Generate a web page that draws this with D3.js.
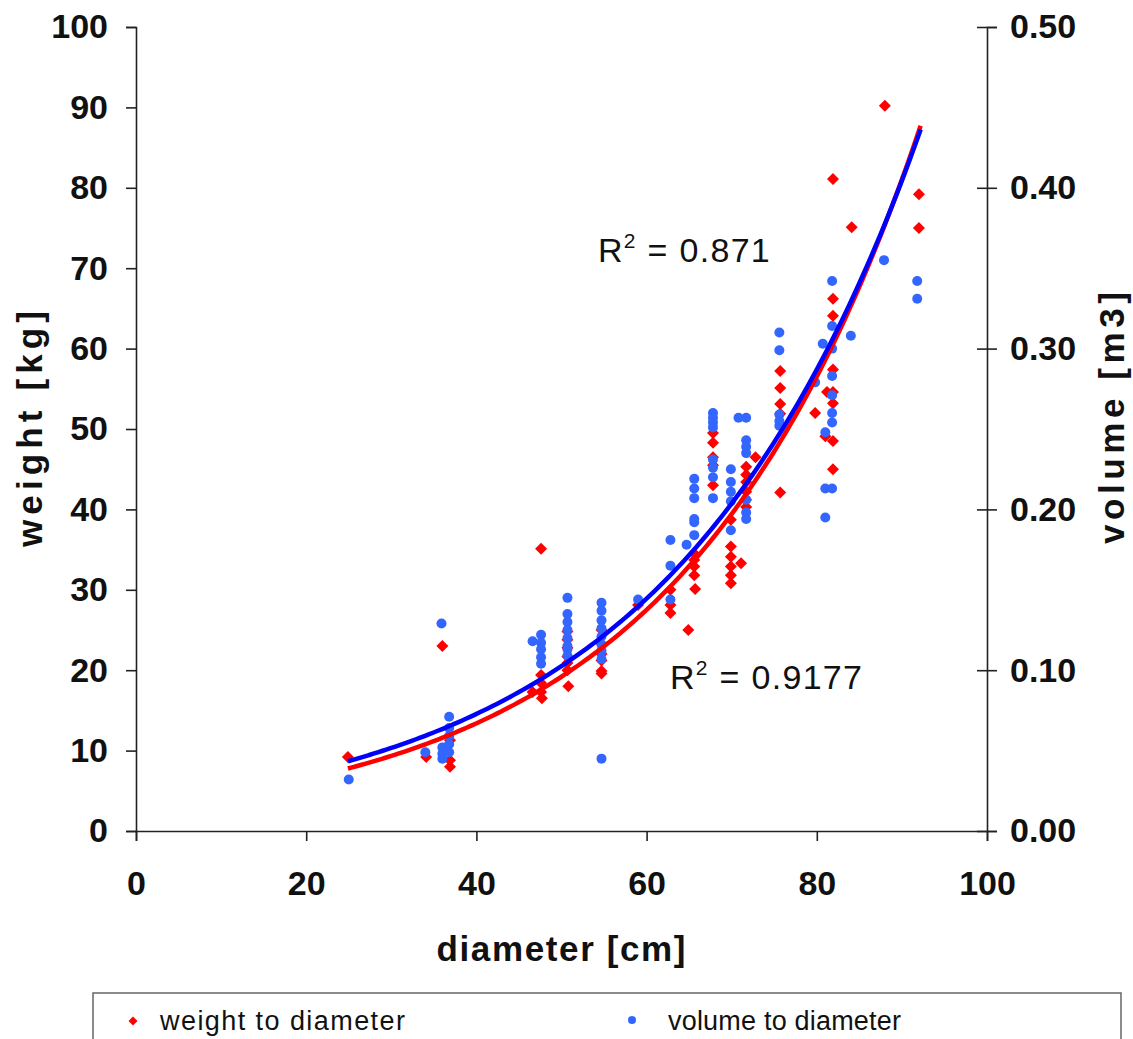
<!DOCTYPE html>
<html>
<head>
<meta charset="utf-8">
<script src="https://cdnjs.cloudflare.com/ajax/libs/d3/7.8.5/d3.min.js"></script>
<style>
  body { margin: 0; background: #fff; }
  svg { display: block; font-family: "Liberation Sans", Arial, sans-serif; }
</style>
</head>
<body>
<script>
// diameter [cm] and weight [kg]
const weightDiam = [24.9, 34.1, 36.0, 36.9, 36.9, 36.9, 46.6, 47.6, 47.6, 47.6, 47.6, 47.7,
  50.7, 50.7, 50.7, 50.7, 50.7, 50.7, 50.8, 54.7, 54.7, 54.7, 54.7, 54.7, 54.7, 59.0,
  62.8, 62.8, 62.8, 64.9, 65.6, 65.6, 65.6, 65.6, 65.7, 67.8, 67.8, 67.8, 67.8, 67.8,
  69.9, 69.9, 69.9, 69.9, 69.9, 69.9, 71.1, 71.7, 71.7, 71.7, 71.7, 71.7, 71.7, 72.8,
  75.7, 75.7, 75.7, 75.7, 75.7, 79.8, 81.0, 81.9, 81.9, 81.9, 81.9, 81.9, 81.2, 81.9,
  81.9, 81.9, 84.1, 88.0, 92.0, 92.0];
const weightKg = [9.2, 9.2, 23.0, 11.3, 8.8, 8.0, 17.3, 35.1, 19.4, 18.4, 17.3, 16.5,
  24.8, 23.8, 22.8, 21.7, 20.9, 20.0, 18.0, 25.0, 23.3, 22.0, 21.2, 19.9, 19.6, 28.1,
  30.0, 28.1, 27.1, 25.0, 34.5, 33.7, 32.9, 31.8, 30.1, 49.5, 48.3, 46.5, 45.5, 43.0,
  38.7, 35.4, 34.1, 32.9, 31.8, 30.8, 33.3, 45.3, 44.3, 43.4, 42.2, 41.2, 40.3, 46.5,
  57.2, 55.1, 53.1, 51.9, 42.1, 52.0, 49.1, 81.1, 66.2, 64.1, 57.4, 54.6, 54.6, 53.2,
  48.5, 45.0, 75.1, 90.2, 79.2, 75.0];

// diameter [cm] and volume [m3]
const volumeDiam = [25.0, 34.0, 35.9, 36.0, 36.0, 36.0, 36.8, 36.8, 36.8, 36.8, 36.8,
  46.6, 47.6, 47.6, 47.6, 47.6, 47.6,
  50.7, 50.7, 50.7, 50.7, 50.7, 50.7, 50.7, 50.7,
  54.7, 54.7, 54.7, 54.7, 54.7, 54.7, 54.7, 54.7, 54.7,
  59.0, 62.8, 62.8, 62.8, 64.7, 65.6, 65.6, 65.6, 65.6, 65.6, 65.6,
  67.8, 67.8, 67.8, 67.8, 67.8, 67.8, 67.8, 67.8,
  69.9, 69.9, 69.9, 69.9, 69.9, 70.8, 71.7, 71.7, 71.7, 71.7, 71.7, 71.7, 71.7,
  75.6, 75.6, 75.6, 75.6, 75.6, 79.8, 80.7, 81.0, 81.0, 81.0,
  81.8, 81.8, 81.8, 81.8, 81.8, 81.8, 81.8, 81.8, 84.0, 87.9, 91.8, 91.8];
const volumeM3 = [0.032, 0.049, 0.129, 0.045, 0.048, 0.052, 0.071, 0.064, 0.059, 0.054, 0.049,
  0.118, 0.122, 0.117, 0.113, 0.108, 0.104,
  0.145, 0.135, 0.130, 0.125, 0.120, 0.115, 0.113, 0.109,
  0.142, 0.137, 0.131, 0.126, 0.121, 0.116, 0.112, 0.107, 0.045,
  0.144, 0.181, 0.165, 0.144, 0.178, 0.219, 0.213, 0.207, 0.194, 0.192, 0.184,
  0.260, 0.257, 0.254, 0.251, 0.231, 0.226, 0.220, 0.207,
  0.225, 0.217, 0.211, 0.205, 0.187, 0.257, 0.257, 0.243, 0.239, 0.235, 0.206, 0.198, 0.194,
  0.310, 0.299, 0.259, 0.255, 0.252, 0.279, 0.303, 0.248, 0.213, 0.195,
  0.342, 0.314, 0.300, 0.283, 0.271, 0.260, 0.254, 0.213, 0.308, 0.355, 0.342, 0.331];

// exponential trendlines y = a * e^(b*x), coefficients
const trendWeight = [3.171, 0.03601];
const trendVolume = [0.01846, 0.0343];
const trendRange = [24.9, 92.2];

const xTicks = [0, 20, 40, 60, 80, 100];
const yTicksLeft = [0, 10, 20, 30, 40, 50, 60, 70, 80, 90, 100];
const yTicksRight = [0, 0.1, 0.2, 0.3, 0.4, 0.5];
const r2Weight = "0.9177";
const r2Volume = "0.871";

const width = 1133, height = 1039;
const plot = { left: 136, right: 987, top: 27, bottom: 831 };

const svg = d3.select("body").append("svg")
  .attr("width", width)
  .attr("height", height);

const x = d3.scaleLinear().domain([0, 100]).range([plot.left, plot.right]);
const yL = d3.scaleLinear().domain([0, 100]).range([plot.bottom, plot.top]);
const yR = d3.scaleLinear().domain([0, 0.5]).range([plot.bottom, plot.top]);

const weightPts = weightDiam.map((d, i) => [d, weightKg[i]]);
const volumePts = volumeDiam.map((d, i) => [d, volumeM3[i]]);

/* axes */
const axisL = svg.append("g")
  .attr("transform", `translate(${plot.left},0)`)
  .call(d3.axisLeft(yL).tickValues(yTicksLeft).tickFormat(d3.format("d")).tickSize(10).tickPadding(18));

const axisR = svg.append("g")
  .attr("transform", `translate(${plot.right},0)`)
  .call(d3.axisRight(yR).tickValues(yTicksRight).tickFormat(d3.format(".2f")).tickSize(10).tickPadding(13));
axisR.selectAll(".tick line").attr("x1", -10);

const axisB = svg.append("g")
  .attr("transform", `translate(0,${plot.bottom})`)
  .call(d3.axisBottom(x).tickValues(xTicks).tickFormat(d3.format("d")).tickSize(10).tickPadding(30));

[axisL, axisR, axisB].forEach((g) => {
  g.select(".domain").attr("stroke", "#222").attr("stroke-width", 1.6);
  g.selectAll(".tick line").attr("stroke", "#222").attr("stroke-width", 1.6);
  g.selectAll(".tick text")
    .attr("fill", "#111")
    .style("font-size", "34px")
    .style("font-weight", "bold")
    .style("font-family", '"Liberation Sans", Arial, sans-serif');
});

// axis titles
svg.append("text")
  .attr("transform", `translate(42,${(plot.top + plot.bottom) / 2}) rotate(-90)`)
  .attr("text-anchor", "middle")
  .attr("textLength", 236)
  .style("font-size", "35px")
  .style("font-weight", "bold")
  .attr("fill", "#111")
  .text("weight [kg]");

svg.append("text")
  .attr("transform", `translate(1124,418) rotate(-90)`)
  .attr("text-anchor", "middle")
  .attr("textLength", 252)
  .style("font-size", "35px")
  .style("font-weight", "bold")
  .attr("fill", "#111")
  .text("volume  [m3]");

svg.append("text")
  .attr("x", 561)
  .attr("y", 961)
  .attr("text-anchor", "middle")
  .attr("textLength", 249)
  .style("font-size", "35px")
  .style("font-weight", "bold")
  .attr("fill", "#111")
  .text("diameter [cm]");

/* points */
const diamond = d3.symbol().type(d3.symbolSquare).size(72);

svg.append("g").selectAll("path")
  .data(weightPts)
  .enter()
  .append("path")
  .attr("d", diamond)
  .attr("transform", (d) => `translate(${x(d[0])},${yL(d[1])}) rotate(45)`)
  .attr("fill", "#ff0000");

svg.append("g").selectAll("circle")
  .data(volumePts)
  .enter()
  .append("circle")
  .attr("cx", (d) => x(d[0]))
  .attr("cy", (d) => yR(d[1]))
  .attr("r", 5)
  .attr("fill", "#3366ff");

/* trendlines */
function drawTrend(coef, yScale, color) {
  const xs = d3.range(trendRange[0], trendRange[1], 0.5).concat([trendRange[1]]);
  svg.append("path")
    .datum(xs)
    .attr("fill", "none")
    .attr("stroke", color)
    .attr("stroke-width", 4.5)
    .attr("d", d3.line()
      .x((v) => x(v))
      .y((v) => yScale(coef[0] * Math.exp(coef[1] * v)))
      .curve(d3.curveMonotoneX));
}
drawTrend(trendWeight, yL, "#ff0000");
drawTrend(trendVolume, yR, "#0000ff");

/* R squared labels */
function r2Label(px, py, val) {
  const t = svg.append("text")
    .attr("x", px)
    .attr("y", py)
    .style("font-size", "34px")
    .style("letter-spacing", "1.3px")
    .attr("fill", "#111");
  t.append("tspan").text("R");
  t.append("tspan").attr("dy", -14).style("font-size", "21px").text("2");
  t.append("tspan").attr("dy", 14).text(" = " + val);
}
r2Label(598, 262, r2Volume);
r2Label(670, 689, r2Weight);

/* legend */
const legend = svg.append("g");
legend.append("rect")
  .attr("x", 93)
  .attr("y", 993)
  .attr("width", 1028)
  .attr("height", 60)
  .attr("fill", "none")
  .attr("stroke", "#666")
  .attr("stroke-width", 1.5);

legend.append("path")
  .attr("d", d3.symbol().type(d3.symbolSquare).size(40))
  .attr("transform", "translate(133,1021) rotate(45)")
  .attr("fill", "#ff0000");
legend.append("text")
  .attr("x", 160)
  .attr("y", 1030)
  .attr("textLength", 245)
  .style("font-size", "27px")
  .attr("fill", "#111")
  .text("weight to diameter");

legend.append("circle")
  .attr("cx", 632)
  .attr("cy", 1020)
  .attr("r", 4)
  .attr("fill", "#3366ff");
legend.append("text")
  .attr("x", 668)
  .attr("y", 1030)
  .attr("textLength", 233)
  .style("font-size", "27px")
  .attr("fill", "#111")
  .text("volume to diameter");
</script>
</body>
</html>
